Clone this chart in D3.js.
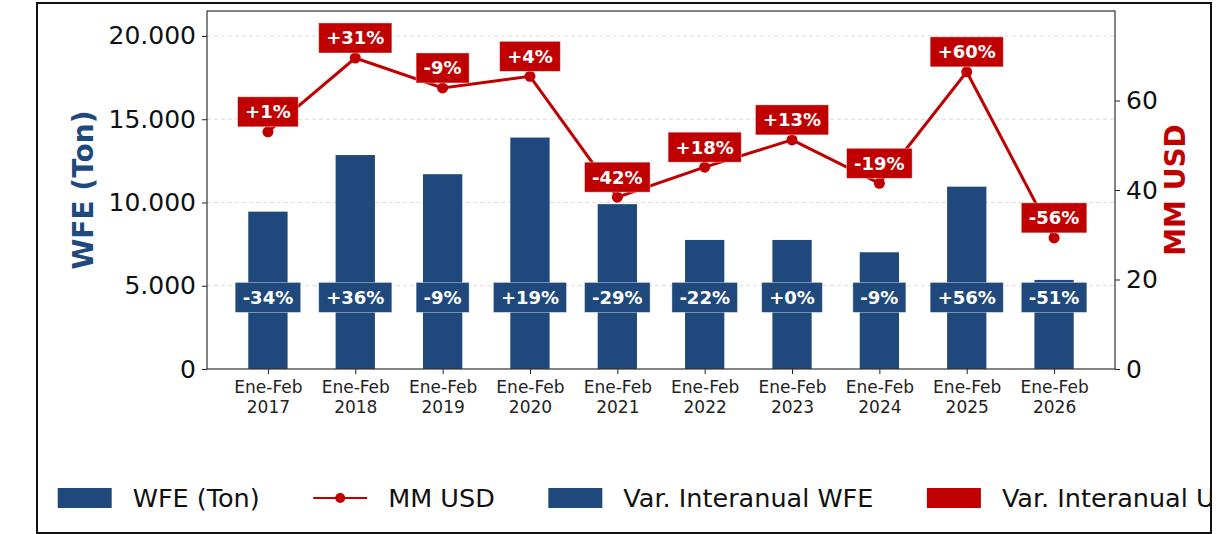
<!DOCTYPE html>
<html>
<head>
<meta charset="utf-8">
<script src="https://cdn.jsdelivr.net/npm/d3@7"></script>
<style>
  body { margin: 0; background: #fff; }
  svg { display: block; }
</style>
</head>
<body>
<svg width="1218" height="534"></svg>
<script>
// Data
const periods = ["Ene-Feb 2017", "Ene-Feb 2018", "Ene-Feb 2019", "Ene-Feb 2020", "Ene-Feb 2021",
  "Ene-Feb 2022", "Ene-Feb 2023", "Ene-Feb 2024", "Ene-Feb 2025", "Ene-Feb 2026"];
const wfeTons = [9450, 12850, 11700, 13900, 9900, 7750, 7750, 7010, 10950, 5350];
const wfeVar = [-34, 36, -9, 19, -29, -22, 0, -9, 56, -51];
const usdMM = [53.0, 69.5, 62.8, 65.4, 38.4, 45.1, 51.2, 41.5, 66.4, 29.3];
const usdVar = [1, 31, -9, 4, -42, 18, 13, -19, 60, -56];
const leftTicks = [0, 5000, 10000, 15000, 20000];
const rightTicks = [0, 20, 40, 60];
const legendLabels = ["WFE (Ton)", "MM USD", "Var. Interanual WFE", "Var. Interanual USD"];

const BLUE = "#1f497d";
const RED = "#c00000";
const FONT = "DejaVu Sans";

const svg = d3.select("svg").attr("font-family", FONT);
const plot = { left: 207, right: 1115, top: 11, bottom: 369 };

const locale = d3.formatLocale({ decimal: ",", thousands: ".", grouping: [3], currency: ["$", ""] });
const fmtThousands = locale.format(",d");
const fmtPct = (v) => (v >= 0 ? "+" : "") + v + "%";

// Scales (matplotlib-like margins around bars of width 0.45)
const barW = 0.45;
const x = d3.scaleLinear().domain([-0.6975, 9.6975]).range([plot.left, plot.right]);
const yLeft = d3.scaleLinear().domain([0, 21500]).range([plot.bottom, plot.top]);
const yRight = d3.scaleLinear().domain([0, 80]).range([plot.bottom, plot.top]);

// clip everything to the outer frame
svg.append("defs").append("clipPath").attr("id", "frame-clip")
  .append("rect").attr("x", 37).attr("y", 3).attr("width", 1174).attr("height", 530);
const root = svg.append("g").attr("clip-path", "url(#frame-clip)");

// Gridlines
root.append("g")
  .selectAll("line")
  .data(leftTicks.filter((d) => d > 0))
  .enter()
  .append("line")
  .attr("x1", plot.left)
  .attr("x2", plot.right)
  .attr("y1", (d) => yLeft(d))
  .attr("y2", (d) => yLeft(d))
  .attr("stroke", "#dcdcdc")
  .attr("stroke-width", 1)
  .attr("stroke-dasharray", "4,3");

// Bars
root.append("g")
  .selectAll("rect")
  .data(wfeTons)
  .enter()
  .append("rect")
  .attr("x", (d, i) => x(i - barW / 2))
  .attr("width", x(barW) - x(0))
  .attr("y", (d) => yLeft(d))
  .attr("height", (d) => yLeft(0) - yLeft(d))
  .attr("fill", BLUE);

// Axes
const axisStyle = (g) => {
  g.attr("font-family", FONT);
  g.select(".domain").remove();
  g.selectAll(".tick line").attr("stroke", "#222");
  g.selectAll(".tick text").attr("fill", "#111").attr("font-size", 25);
};

root.append("g")
  .attr("transform", `translate(${plot.left},0)`)
  .call(d3.axisLeft(yLeft).tickValues(leftTicks).tickFormat(fmtThousands).tickSize(5).tickSizeOuter(0).tickPadding(6))
  .call(axisStyle);

root.append("g")
  .attr("transform", `translate(${plot.right},0)`)
  .call(d3.axisRight(yRight).tickValues(rightTicks).tickSize(5).tickSizeOuter(0).tickPadding(6))
  .call(axisStyle);

const xAxis = root.append("g")
  .attr("transform", `translate(0,${plot.bottom})`)
  .call(d3.axisBottom(x).tickValues(d3.range(periods.length)).tickSize(5).tickSizeOuter(0).tickFormat(""))
  .call(axisStyle);
xAxis.selectAll(".tick")
  .append("text")
  .attr("fill", "#222")
  .attr("text-anchor", "middle")
  .attr("font-size", 17)
  .selectAll("tspan")
  .data((d) => periods[d].split(" "))
  .enter()
  .append("tspan")
  .attr("x", 0)
  .attr("y", (d, i) => 23.7 + i * 20)
  .text((d) => d);

// Plot frame
root.append("rect")
  .attr("x", plot.left)
  .attr("y", plot.top)
  .attr("width", plot.right - plot.left)
  .attr("height", plot.bottom - plot.top)
  .attr("fill", "none")
  .attr("stroke", "#333")
  .attr("stroke-width", 1.2);

// Axis titles
root.append("text")
  .attr("transform", `translate(83,${(plot.top + plot.bottom) / 2}) rotate(-90)`)
  .attr("text-anchor", "middle")
  .attr("dy", "0.35em")
  .attr("fill", BLUE)
  .attr("font-size", 28)
  .attr("font-weight", "bold")
  .text("WFE (Ton)");

root.append("text")
  .attr("transform", `translate(1175,${(plot.top + plot.bottom) / 2}) rotate(-90)`)
  .attr("text-anchor", "middle")
  .attr("dy", "0.35em")
  .attr("fill", RED)
  .attr("font-size", 28)
  .attr("font-weight", "bold")
  .text("MM USD");

// Line + markers
const line = d3.line().x((d, i) => x(i)).y((d) => yRight(d));
root.append("path")
  .datum(usdMM)
  .attr("d", line)
  .attr("fill", "none")
  .attr("stroke", RED)
  .attr("stroke-width", 3);

root.append("g")
  .selectAll("circle")
  .data(usdMM)
  .enter()
  .append("circle")
  .attr("cx", (d, i) => x(i))
  .attr("cy", (d) => yRight(d))
  .attr("r", 5.5)
  .attr("fill", RED);

// Labeled boxes
function boxLabel(g, cx, cy, txt, fill) {
  const grp = g.append("g").attr("transform", `translate(${cx},${cy})`);
  const rect = grp.append("rect").attr("fill", fill).attr("stroke", "#fff").attr("stroke-opacity", 0.5).attr("stroke-width", 0.8);
  const t = grp.append("text")
    .attr("text-anchor", "middle")
    .attr("dy", "0.36em")
    .attr("fill", "#fff")
    .attr("font-size", 18)
    .attr("font-weight", "bold")
    .text(txt);
  const w = t.node().getComputedTextLength() + 15;
  rect.attr("x", -w / 2).attr("y", -15).attr("width", w).attr("height", 30);
}

const WFE_LABEL_Y = 4300;
const labels = root.append("g");
wfeVar.forEach((v, i) => boxLabel(labels, x(i), yLeft(WFE_LABEL_Y), fmtPct(v), BLUE));
usdVar.forEach((v, i) => boxLabel(labels, x(i), yRight(usdMM[i]) - 20, fmtPct(v), RED));

// Legend
const legend = root.append("g").attr("transform", "translate(0,498)");
let lx = 57.7;
legendLabels.forEach((label, i) => {
  if (i === 1) {
    legend.append("line").attr("x1", lx).attr("x2", lx + 54).attr("y1", 0).attr("y2", 0)
      .attr("stroke", RED).attr("stroke-width", 2);
    legend.append("circle").attr("cx", lx + 27).attr("cy", 0).attr("r", 5).attr("fill", RED);
  } else {
    legend.append("rect").attr("x", lx).attr("y", -10).attr("width", 54).attr("height", 20)
      .attr("fill", i === 3 ? RED : BLUE);
  }
  const t = legend.append("text")
    .attr("x", lx + 75)
    .attr("dy", "0.36em")
    .attr("fill", "#111")
    .attr("font-size", 25.5)
    .text(label);
  lx += 75 + t.node().getComputedTextLength() + 53.5;
});

// Outer frame
svg.append("rect")
  .attr("x", 37)
  .attr("y", 3)
  .attr("width", 1174)
  .attr("height", 530)
  .attr("fill", "none")
  .attr("stroke", "#111")
  .attr("stroke-width", 2);
</script>
</body>
</html>
